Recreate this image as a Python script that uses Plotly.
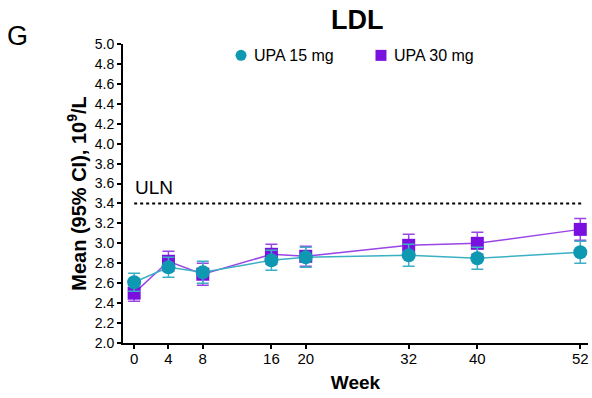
import plotly.graph_objects as go

weeks = [0, 4, 8, 16, 20, 32, 40, 52]

upa15_mean = [2.61, 2.76, 2.71, 2.83, 2.86, 2.88, 2.85, 2.91]
upa15_ci = [0.09, 0.10, 0.11, 0.10, 0.10, 0.11, 0.11, 0.11]

upa30_mean = [2.50, 2.82, 2.69, 2.89, 2.87, 2.98, 3.00, 3.14]
upa30_ci = [0.08, 0.10, 0.11, 0.10, 0.10, 0.11, 0.11, 0.11]

series_names = ["UPA 15 mg", "UPA 30 mg"]
uln = 3.4
y_ticks = [round(2.0 + 0.2 * i, 1) for i in range(16)]

TEAL = "#0f98b1"
TEAL_LINE = "#3bb0c4"
PURPLE = "#7a10e0"
PURPLE_LINE = "#9a45e6"
FONT = "Liberation Sans, Arial, sans-serif"

fig = go.Figure()

# UPA 30 mg series (drawn first so the 15 mg circles sit on top)
fig.add_trace(go.Scatter(
    x=weeks, y=upa30_mean, mode="lines+markers", name=series_names[1], showlegend=False,
    line=dict(color=PURPLE_LINE, width=1.5),
    marker=dict(symbol="square", size=13, color=PURPLE),
    error_y=dict(type="data", array=upa30_ci, color=PURPLE_LINE, thickness=1.5, width=6),
))
fig.add_trace(go.Scatter(
    x=weeks, y=upa15_mean, mode="lines+markers", name=series_names[0], showlegend=False,
    line=dict(color=TEAL_LINE, width=1.5),
    marker=dict(symbol="circle", size=14, color=TEAL),
    error_y=dict(type="data", array=upa15_ci, color=TEAL_LINE, thickness=1.5, width=6),
))

# upper limit of normal
fig.add_shape(type="line", x0=0, x1=52.3, y0=uln, y1=uln, xref="x", yref="y",
              line=dict(color="black", width=2, dash="dot"))
fig.add_annotation(x=0, y=uln, xref="x", yref="y", text="ULN", showarrow=False,
                   xanchor="left", yanchor="bottom", yshift=3, xshift=-1,
                   font=dict(size=19, color="black", family=FONT))

# key: marker glyphs + labels placed along the top of the plot area
key_y = 0.962
key_items = [(0.2538, "circle", TEAL, series_names[0]),
             (0.5548, "rect", PURPLE, series_names[1])]
for kx, kind, color, label in key_items:
    fig.add_shape(type=kind, xref="paper", yref="paper",
                  xsizemode="pixel", ysizemode="pixel", xanchor=kx, yanchor=key_y,
                  x0=-5.5, x1=5.5, y0=-5.5, y1=5.5,
                  fillcolor=color, line=dict(width=0))
    fig.add_annotation(x=kx, y=key_y, xref="paper", yref="paper", text=label,
                       showarrow=False, xanchor="left", yanchor="middle", xshift=11,
                       font=dict(size=16, color="black", family=FONT))

# panel letter and title
fig.add_annotation(x=-0.226, y=1.027, xref="paper", yref="paper", text="G",
                   showarrow=False, xanchor="center", yanchor="middle",
                   font=dict(size=27, color="black", family=FONT))
fig.add_annotation(x=0.503, y=1.08, xref="paper", yref="paper", text="<b>LDL</b>",
                   showarrow=False, xanchor="center", yanchor="middle",
                   font=dict(size=27, color="black", family=FONT))

fig.update_layout(
    width=592, height=398,
    margin=dict(l=123, r=4, t=44, b=55, autoexpand=False),
    paper_bgcolor="white", plot_bgcolor="white",
    font=dict(family=FONT, color="black", size=14),
    showlegend=False,
    xaxis=dict(
        range=[-1.3, 52.9], tickmode="array", tickvals=weeks, ticktext=[str(w) for w in weeks],
        showgrid=False, zeroline=False, showline=True, linecolor="black", linewidth=2,
        ticks="outside", ticklen=4, tickwidth=1.5, tickcolor="black",
        tickfont=dict(size=15, family=FONT), ticklabelstandoff=-3,
        title=dict(text="<b>Week</b>", font=dict(size=19, family=FONT), standoff=10),
    ),
    yaxis=dict(
        range=[2.0, 5.0], tickmode="array", tickvals=y_ticks,
        ticktext=[f"{v:.1f}" for v in y_ticks],
        showgrid=False, zeroline=False, showline=True, linecolor="black", linewidth=2,
        ticks="outside", ticklen=4, tickwidth=1.5, tickcolor="black",
        tickfont=dict(size=14, family=FONT),
        title=dict(text="<b>Mean (95% CI), 10<sup>9</sup>/L</b>",
                   font=dict(size=20, family=FONT), standoff=3),
    ),
)

fig.write_html("out.html")
